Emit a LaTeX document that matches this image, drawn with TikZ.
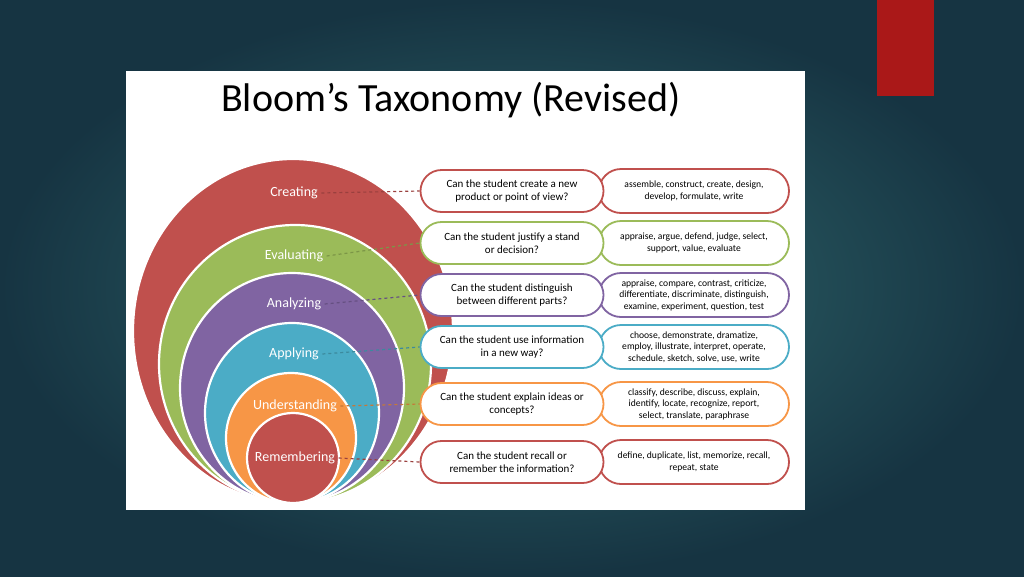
\documentclass[tikz,border=0pt]{standalone}
\usepackage{fontspec}
\setmainfont{Carlito}
\usetikzlibrary{shapes.misc}
\definecolor{cRed}{RGB}{192,80,77}
\definecolor{cGreen}{RGB}{155,187,89}
\definecolor{cPurple}{RGB}{128,100,162}
\definecolor{cBlue}{RGB}{75,172,198}
\definecolor{cOrange}{RGB}{247,150,70}
\definecolor{bgIn}{RGB}{50,108,112}
\definecolor{bgOut}{RGB}{22,52,66}
\definecolor{flag}{RGB}{170,24,24}
\tikzset{
  ring/.style={draw=white,line width=2.2pt},
  lvl/.style={text=white,font=\fontsize{14}{16}\selectfont},
  qbox/.style={rounded rectangle,draw=#1,line width=1.8pt,fill=white,minimum width=185pt,minimum height=42pt,align=center,font=\fontsize{11}{13}\selectfont,inner sep=1pt},
  vbox/.style={rounded rectangle,draw=#1,line width=1.8pt,fill=white,minimum width=192pt,minimum height=44pt,align=center,font=\fontsize{9.6}{11.5}\selectfont,inner sep=1pt},
  link/.style={draw=#1!80!black,dashed,line width=1.2pt}
}
\begin{document}
\begin{tikzpicture}[x=1pt,y=-1pt]
\useasboundingbox (0,0) rectangle (1024,576);
\fill[inner color=bgIn,outer color=bgOut] (0,0) rectangle (1024,576);
\fill[flag] (877,0) rectangle (934,96);
\fill[white] (126,71) rectangle (805,510);
\node[font=\fontsize{40}{44}\selectfont,anchor=west,inner sep=0pt] (title) at (221,100) {Bloom’s Taxonomy (Revised)};
% circles
\draw[ring,fill=cRed] (293,331) ellipse [x radius=160,y radius=172];
\draw[ring,fill=cGreen] (295,364) ellipse [x radius=136,y radius=139];
\draw[ring,fill=cPurple] (292,388) ellipse [x radius=112,y radius=115];
\draw[ring,fill=cBlue] (292,413) ellipse [x radius=87,y radius=90];
\draw[ring,fill=cOrange] (291,438) ellipse [x radius=65,y radius=65];
\draw[ring,fill=cRed] (293,458) ellipse [x radius=46,y radius=45];
\node[lvl] (l1) at (294,193) {Creating};
\node[lvl] (l2) at (294,256) {Evaluating};
\node[lvl] (l3) at (294,304) {Analyzing};
\node[lvl] (l4) at (294,354) {Applying};
\node[lvl] (l5) at (295,406) {Understanding};
\node[lvl] (l6) at (295,458) {Remembering};
% verb boxes
\node[vbox=cRed] (v1) at (694,191) {assemble, construct, create, design,\\develop, formulate, write};
\node[vbox=cGreen] (v2) at (694,243) {appraise, argue, defend, judge, select,\\support, value, evaluate};
\node[vbox=cPurple] (v3) at (694,295) {appraise, compare, contrast, criticize,\\differentiate, discriminate, distinguish,\\examine, experiment, question, test};
\node[vbox=cBlue] (v4) at (694,347) {choose, demonstrate, dramatize,\\employ, illustrate, interpret, operate,\\schedule, sketch, solve, use, write};
\node[vbox=cOrange] (v5) at (694,404) {classify, describe, discuss, explain,\\identify, locate, recognize, report,\\select, translate, paraphrase};
\node[vbox=cRed] (v6) at (694,462) {define, duplicate, list, memorize, recall,\\repeat, state};
% question boxes
\node[qbox=cRed] (q1) at (512,191) {Can the student create a new\\product or point of view?};
\node[qbox=cGreen] (q2) at (512,243) {Can the student justify a stand\\or decision?};
\node[qbox=cPurple] (q3) at (512,295) {Can the student distinguish\\between different parts?};
\node[qbox=cBlue] (q4) at (512,347) {Can the student use information\\in a new way?};
\node[qbox=cOrange] (q5) at (512,404) {Can the student explain ideas or\\concepts?};
\node[qbox=cRed] (q6) at (512,462) {Can the student recall or\\remember the information?};
% links
\draw[link=cRed] (l1.east) -- (q1.west);
\draw[link=cGreen] (l2.east) -- (q2.west);
\draw[link=cPurple] (l3.east) -- (q3.west);
\draw[link=cBlue] (l4.east) -- (q4.west);
\draw[link=cOrange] (l5.east) -- (q5.west);
\draw[link=cRed] (l6.east) -- (q6.west);
\end{tikzpicture}
\end{document}
